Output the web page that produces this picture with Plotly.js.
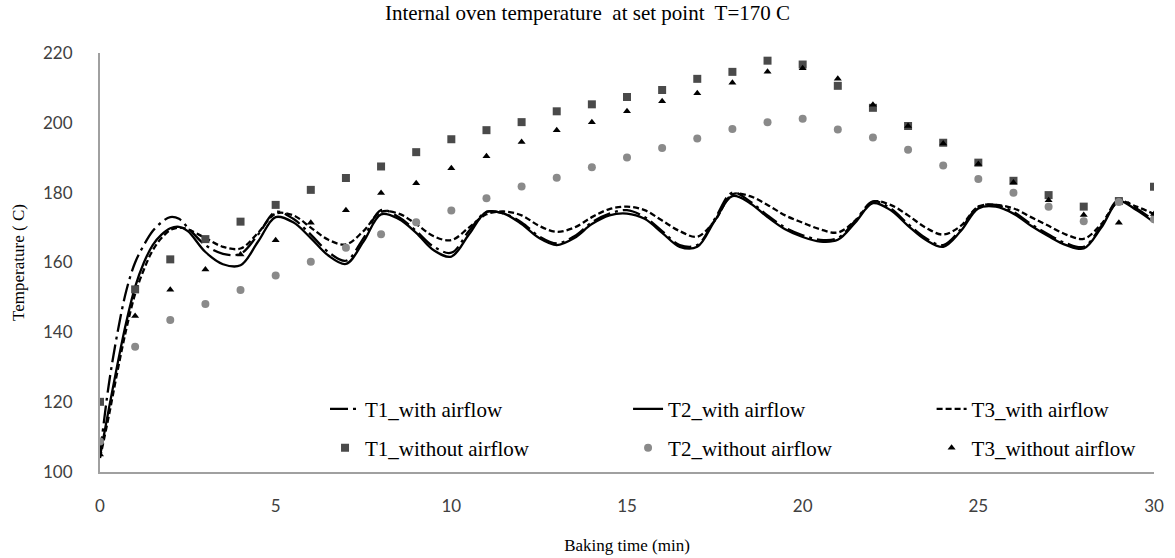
<!DOCTYPE html>
<html>
<head>
<meta charset="utf-8">
<script src="https://cdn.plot.ly/plotly-3.0.1.min.js"></script>
<style>html,body{margin:0;padding:0;background:#fff;}#chart{width:1175px;height:558px;}</style>
</head>
<body>
<div id="chart"></div>
<script>
// Time axis for line series (min)
const tLine = [0,0.25,0.5,0.75,1,1.25,1.5,1.75,2,2.25,2.5,3,3.5,4,4.5,5,5.5,6,6.5,7,7.5,8,8.5,9,9.5,10,10.5,11,11.5,12,12.5,13,13.5,14,14.5,15,15.5,16,16.5,17,17.5,18,18.5,19,19.5,20,20.5,21,21.5,22,22.5,23,23.5,24,24.5,25,25.5,26,26.5,27,27.5,28,28.5,29,29.5,30];
const T1_with = [105,125,140,152,160,165,169,171.5,173,172.5,170,165,162.5,162.5,168,174.5,172.5,168,163,160.5,167,175,173,169,164.5,162.8,169,174.5,174,171.5,167.5,165.5,167.5,171.5,174,175,173,169,165,165,172.5,180,177.5,173.5,170,167.8,166.5,167,172,177.5,175.5,171,167,165,169.5,176,176.5,174.5,171,168,165.5,164.5,170.5,178,175.5,172];
const T2_with = [104.5,118,131,143,153,160,165,168,169.8,170.2,169,163,159.5,159.2,166,173,171.5,167,162,159.6,166,173.8,172.5,168.5,163.5,161.7,168,174.5,174,171,167,165,167,171,173.5,174,172.5,168.5,164.5,164.5,172,179,177,173,169.5,167.3,166,166.5,171.5,177,175,170.5,166.5,164.5,169,175.5,176,174,170.5,167.5,165,164,170,177.5,175,171.5];
const T3_with = [104,116,129,141,151,158,163.5,167,169.3,170,169.5,167,164.5,164,168.5,174,173.5,170,166.5,165.2,169,174.5,174,171,167.5,166.4,170,173.8,174.6,173.5,170.5,168.8,170,173,175.3,176,175,172,169,167.4,172,179.5,179,176.5,173.5,171.4,169.5,168.6,172,177.4,176.5,173.5,170,168,170.5,176,176.5,175.5,173,170.5,168,166.8,171,177.5,176,173.9];

// Time axis for point series (min)
const tPts = [0,1,2,3,4,5,6,7,8,9,10,11,12,13,14,15,16,17,18,19,20,21,22,23,24,25,26,27,28,29,30];
const T1_without = [120.1,152.3,160.9,166.7,171.7,176.5,180.8,184.2,187.5,191.6,195.3,197.9,200.2,203.3,205.3,207.4,209.4,212.6,214.6,217.8,216.7,210.6,204.3,199.1,194.3,188.6,183.4,179.3,176.0,177.6,181.7];
const T2_without = [108.7,135.9,143.5,148.1,152.1,156.3,160.2,164.2,168.1,171.5,174.9,178.4,181.8,184.3,187.3,190.1,192.8,195.5,198.2,200.2,201.2,198.1,195.8,192.3,187.8,183.9,180.0,176.0,171.8,177.3,172.4];
const T3_without = [105.0,144.7,152.2,158.0,162.3,166.4,171.4,175.0,179.9,182.7,187.0,190.4,194.5,197.9,200.2,203.3,206.2,208.5,211.5,214.6,215.6,212.6,205.2,199.1,194.1,188.2,182.9,177.8,173.6,171.4,173.9];

const serif = 'Liberation Serif, Times New Roman, serif';
const sans = 'Lato, Open Sans, sans-serif';

const lineTrace = (y, name, dash, legend) => ({
  x: tLine, y: y, name: name, type: 'scatter', mode: 'lines',
  line: {color: '#000', width: 2.3, dash: dash, shape: 'spline', smoothing: 1},
  legend: legend
});
const ptTrace = (y, name, symbol, color, size, legend) => ({
  x: tPts, y: y, name: name, type: 'scatter', mode: 'markers',
  marker: {symbol: symbol, color: color, size: size},
  legend: legend
});

const data = [
  lineTrace(T1_with, 'T1_with airflow', '18px,5px,3px,5px', 'legend'),
  lineTrace(T2_with, 'T2_with airflow', 'solid', 'legend2'),
  lineTrace(T3_with, 'T3_with airflow', '6px,3px', 'legend3'),
  ptTrace(T1_without, 'T1_without airflow', 'square', '#4a4a4a', 8, 'legend4'),
  ptTrace(T2_without, 'T2_without airflow', 'circle', '#8a8a8a', 8, 'legend5'),
  ptTrace(T3_without, 'T3_without airflow', 'triangle-up', '#000', 7, 'legend6')
];

const colX = [0.2135, 0.501, 0.789];
const rowY = [0.150, 0.057];
const leg = (x, y) => ({
  orientation: 'v', xanchor: 'left', yanchor: 'middle', x: x, y: y,
  font: {family: serif, size: 21, color: '#000'},
  bgcolor: 'rgba(0,0,0,0)', borderwidth: 0, itemwidth: 30
});

const layout = {
  width: 1175, height: 558,
  margin: {l: 100, r: 21, t: 53, b: 86},
  paper_bgcolor: '#fff', plot_bgcolor: '#fff',
  showlegend: true,
  title: {text: 'Internal oven temperature  at set point  T=170 C', font: {family: serif, size: 21, color: '#000'}, x: 0.5, xanchor: 'center', y: 0.977, yanchor: 'middle'},
  xaxis: {
    range: [0, 30], dtick: 5, tick0: 0, showgrid: false, zeroline: false,
    showline: true, linecolor: '#a0a0a0', linewidth: 2, ticks: '',
    ticklabelstandoff: 18,
    tickfont: {family: sans, size: 17, color: '#404040'},
    title: {text: 'Baking time (min)', font: {family: serif, size: 17, color: '#000'}, standoff: 24}
  },
  yaxis: {
    range: [100, 220], dtick: 20, tick0: 100, showgrid: false, zeroline: false,
    showline: true, linecolor: '#a0a0a0', linewidth: 2, ticks: '',
    ticklabelstandoff: 22,
    tickfont: {family: sans, size: 17, color: '#404040'},
    title: {text: 'Temperature ( C)', font: {family: serif, size: 17, color: '#000'}, standoff: 14}
  },
  legend: leg(colX[0], rowY[0]),
  legend2: leg(colX[1], rowY[0]),
  legend3: leg(colX[2], rowY[0]),
  legend4: leg(colX[0], rowY[1]),
  legend5: leg(colX[1], rowY[1]),
  legend6: leg(colX[2], rowY[1])
};

Plotly.newPlot('chart', data, layout, {displayModeBar: false, responsive: false});
</script>
</body>
</html>
